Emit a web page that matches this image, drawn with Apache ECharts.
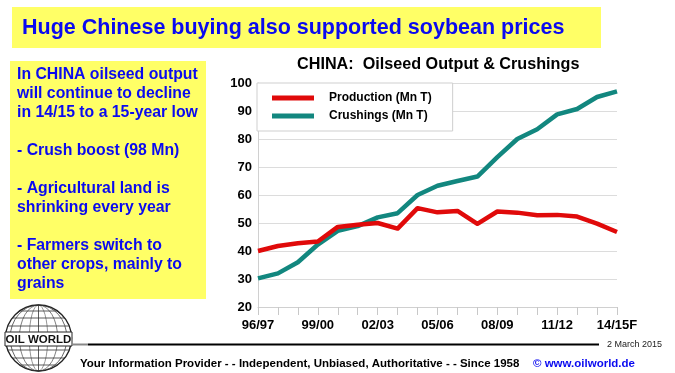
<!DOCTYPE html>
<html><head><meta charset="utf-8">
<script src="https://cdn.jsdelivr.net/npm/echarts@6/dist/echarts.min.js"></script>
<style>html,body{margin:0;padding:0;background:#fff}#c{width:675px;height:373px}</style>
</head><body><div id="c"></div>
<script>
const categories = ['96/97','97/98','98/99','99/00','00/01','01/02','02/03','03/04','04/05','05/06','06/07','07/08','08/09','09/10','10/11','11/12','12/13','13/14','14/15F'];
const production = [40.0,41.8,42.8,43.4,48.6,49.4,50.0,48.0,55.3,53.8,54.3,49.7,54.1,53.7,52.8,52.9,52.3,49.8,46.8];
const crushings = [30.2,32.0,36.0,42.3,47.2,48.9,52.0,53.5,60.0,63.3,65.0,66.6,73.5,80.0,83.5,88.8,90.7,95.0,97.0];
const seriesNames = ['Production (Mn T)','Crushings (Mn T)'];
const yTicks = {min:20, max:100, step:10};

const FONT = '"Liberation Sans", Arial, sans-serif';
const BLUE = '#0a0af0';
const YELLOW = '#ffff66';

const chart = echarts.init(document.getElementById('c'), null, {renderer:'canvas'});

// Globe logo decoration
const gx = 38.5, gy = 338, gr = 33;
const globe = [];
globe.push({type:'circle', shape:{cx:gx, cy:gy, r:gr}, style:{fill:'#fff', stroke:'#222', lineWidth:1.3}});
[0.28, 0.58, 0.86].forEach(s => {
  globe.push({type:'circle', x:gx, y:gy, scaleX:s, shape:{cx:0, cy:0, r:gr}, style:{fill:'none', stroke:'#333', lineWidth:0.8, strokeNoScale:true}});
});
globe.push({type:'line', shape:{x1:gx, y1:gy-gr, x2:gx, y2:gy+gr}, style:{stroke:'#333', lineWidth:0.8}});
[-27,-20,-12,12,20,27].forEach(d => {
  const h = Math.sqrt(gr*gr - d*d);
  globe.push({type:'line', shape:{x1:gx-h, y1:gy+d, x2:gx+h, y2:gy+d}, style:{stroke:'#333', lineWidth:0.8}});
});
globe.push({type:'rect', shape:{x:5, y:332, width:67, height:14}, style:{fill:'#fff', stroke:'#222', lineWidth:1}});
globe.push({type:'text', x:38.5, y:339.5, style:{text:'OIL WORLD', font:'900 11.5px '+FONT, fill:'#111', align:'center', verticalAlign:'middle'}});

const leftLines = [
  'In CHINA oilseed output','will continue to decline','in 14/15 to a 15-year low','',
  '- Crush boost (98 Mn)','',
  '- Agricultural land is','shrinking every year','',
  '- Farmers switch to','other crops, mainly to','grains'
];

chart.setOption({
  animation:false,
  backgroundColor:'#fff',
  title:{text:'CHINA:  Oilseed Output & Crushings', left:292, top:52,
    textStyle:{fontFamily:FONT, fontWeight:'bold', fontSize:16.2, color:'#000'}},
  legend:{
    orient:'vertical', left:257, top:83,
    data:seriesNames,
    icon:'rect', itemWidth:42, itemHeight:5, itemGap:4,
    backgroundColor:'#fff', borderColor:'#cfcfcf', borderWidth:1,
    padding:[8,21,8,15],
    textStyle:{fontFamily:FONT, fontWeight:'bold', fontSize:12, color:'#000', padding:[0,0,0,10], lineHeight:14}
  },
  grid:{left:258, right:58, top:83, bottom:66, containLabel:false},
  xAxis:{
    type:'category', data:categories, boundaryGap:false,
    axisLine:{show:true, lineStyle:{color:'#d0d0d0', width:1}},
    axisTick:{show:true, interval:0, length:8, lineStyle:{color:'#c8c8c8'}},
    axisLabel:{interval:2, margin:12, fontFamily:FONT, fontWeight:'bold', fontSize:13, color:'#000'},
    splitLine:{show:false}
  },
  yAxis:{
    type:'value', min:yTicks.min, max:yTicks.max, interval:yTicks.step,
    axisLine:{show:true, lineStyle:{color:'#d0d0d0'}},
    axisTick:{show:false},
    axisLabel:{margin:6, fontFamily:FONT, fontWeight:'bold', fontSize:13, color:'#000'},
    splitLine:{show:true, lineStyle:{color:'#dcdcdc', width:1}}
  },
  series:[
    {name:seriesNames[0], type:'line', data:production, symbol:'none', z:3,
      lineStyle:{color:'#e00a0a', width:4.5, join:'round'}, itemStyle:{color:'#e00a0a'}},
    {name:seriesNames[1], type:'line', data:crushings, symbol:'none', z:2,
      lineStyle:{color:'#12877f', width:4.5, join:'round'}, itemStyle:{color:'#12877f'}}
  ],
  graphic:[
    {type:'rect', shape:{x:12, y:7, width:589, height:41}, style:{fill:YELLOW}, z:0},
    {type:'text', x:22, y:28, style:{text:'Huge Chinese buying also supported soybean prices', font:'bold 21.5px '+FONT, fill:BLUE, verticalAlign:'middle'}},
    {type:'rect', shape:{x:10, y:61, width:196, height:238}, style:{fill:YELLOW}, z:0},
    {type:'group', children: leftLines.map((t,i)=>({type:'text', x:17, y:75+i*19, style:{text:t, font:'bold 15.8px '+FONT, fill:BLUE, verticalAlign:'middle'}}))},
    {type:'group', children: globe},
    {type:'line', shape:{x1:72, y1:344.5, x2:88, y2:344.5}, style:{stroke:'#888', lineWidth:2}},
    {type:'line', shape:{x1:88, y1:344.5, x2:599, y2:344.5}, style:{stroke:'#000', lineWidth:2}},
    {type:'text', x:607, y:344.5, style:{text:'2 March 2015', font:'9px '+FONT, fill:'#222', verticalAlign:'middle'}},
    {type:'text', x:80, y:364, style:{text:'Your Information Provider - - Independent, Unbiased, Authoritative - - Since 1958', font:'bold 11.5px '+FONT, fill:'#000', verticalAlign:'middle'}},
    {type:'text', x:533, y:364, style:{text:'© www.oilworld.de', font:'bold 11.5px '+FONT, fill:BLUE, verticalAlign:'middle'}}
  ]
});
</script></body></html>
